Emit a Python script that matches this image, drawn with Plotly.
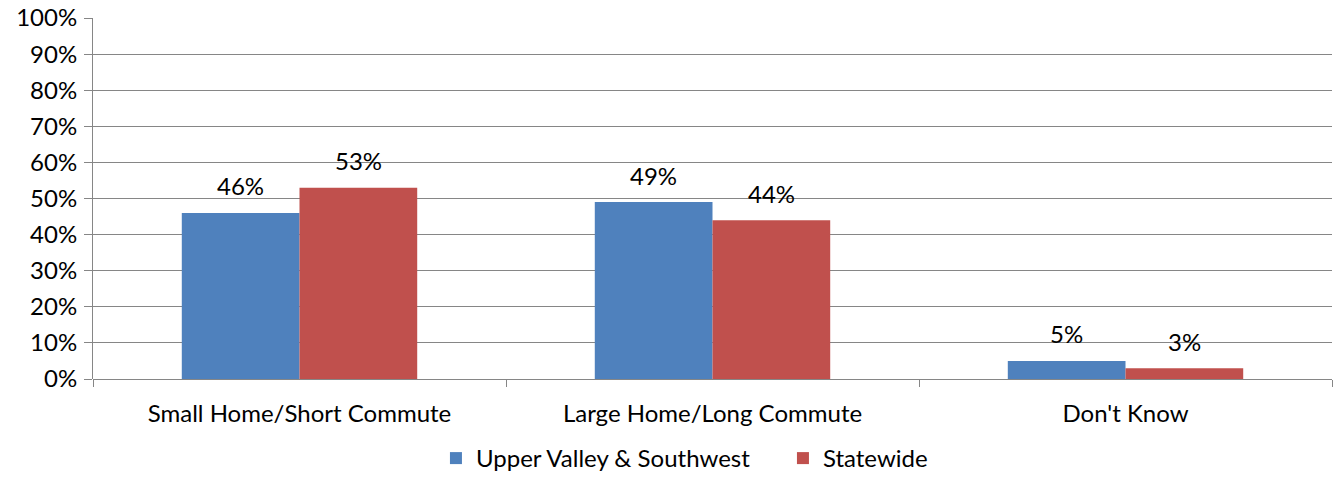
import plotly.graph_objects as go

categories = ["Small Home/Short Commute", "Large Home/Long Commute", "Don't Know"]
upper_valley = [46, 49, 5]
statewide = [53, 44, 3]
series_names = ["Upper Valley & Southwest", "Statewide"]
colors = ["#4F81BD", "#C0504D"]
y_ticks = list(range(0, 101, 10))
y_tick_labels = [f"{v}%" for v in y_ticks]

FONT = "Lato, 'Open Sans', sans-serif"
FS = 24
GRID = "#868686"

fig = go.Figure()
for name, vals, col in zip(series_names, [upper_valley, statewide], colors):
    fig.add_trace(go.Bar(
        name=name, x=categories, y=vals,
        marker=dict(color=col, line=dict(width=0)),
        offsetgroup=name,
    ))

# data labels
for i, (vals, name) in enumerate(zip([upper_valley, statewide], series_names)):
    for j, v in enumerate(vals):
        fig.add_annotation(
            x=j, y=v, xref="x", yref="y",
            text=f"{v}%", showarrow=False,
            xshift=(-59 if i == 0 else 59), yshift=27,
            font=dict(family=FONT, size=FS, color="#000000"),
        )

fig.update_layout(
    width=1337, height=481,
    margin=dict(l=93, r=5, t=18, b=102),
    paper_bgcolor="white", plot_bgcolor="white",
    barmode="group", bargap=0.43, bargroupgap=0,
    font=dict(family=FONT, size=FS, color="#000000"),
    showlegend=True,
    legend=dict(orientation="h", xref="container", x=0.5856, xanchor="center",
                yref="container", y=-0.015, yanchor="bottom",
                font=dict(family=FONT, size=FS), itemwidth=30,
                entrywidth=302, entrywidthmode="pixels",
                traceorder="normal"),
)
fig.update_xaxes(
    type="category", automargin=False,
    showline=False, showgrid=False,
    ticks="outside", tickson="boundaries", ticklen=7, tickcolor=GRID, tickwidth=1,
    tickfont=dict(family=FONT, size=FS),
    ticklabelstandoff=18,
)
fig.update_yaxes(
    range=[0, 100], tickvals=y_ticks, ticktext=y_tick_labels, automargin=False,
    showgrid=True, gridcolor=GRID, gridwidth=1,
    zeroline=True, zerolinecolor=GRID, zerolinewidth=1,
    showline=True, linecolor=GRID, linewidth=1,
    ticks="outside", ticklen=8, tickcolor=GRID,
    tickfont=dict(family=FONT, size=FS),
    ticklabelstandoff=2,
)
fig.write_html("out.html", config={"displayModeBar": False},
               post_script="document.body.style.margin='0';document.body.style.padding='0';")
